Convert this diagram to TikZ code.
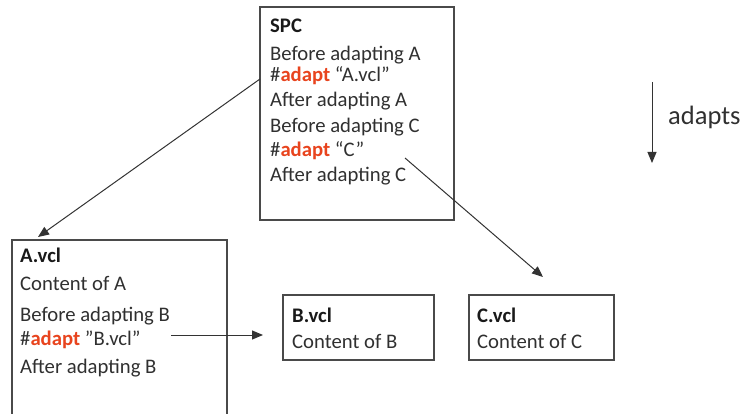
\documentclass[tikz,border=0pt]{standalone}
\usepackage{fontspec}
\setmainfont{Carlito}
\usetikzlibrary{arrows.meta}
\definecolor{txt}{HTML}{303030}
\definecolor{kwred}{HTML}{E8441E}
\definecolor{frame}{HTML}{4A4A4A}
\newcommand\adaptkw{\textcolor{kwred}{\bfseries adapt}}

\begin{document}
\begin{tikzpicture}[x=1pt,y=-1pt,
  box/.style={draw=frame, line width=1.3pt, inner sep=0pt, outer sep=0pt, anchor=north west},
  ln/.style={anchor=base west, inner sep=0pt, text=txt, font=\fontsize{20.7}{24}\selectfont},
  ttl/.style={anchor=base west, inner sep=0pt, text=black!90, font=\fontsize{20.7}{24}\selectfont\bfseries},
  arr/.style={draw=black!80, line width=1pt, -{Triangle[length=11pt,width=9pt]}}]

\clip (0,0) rectangle (744,414);

% frames
\node[box, minimum width=194pt, minimum height=213pt] (spc) at (260,7) {};
\node[box, minimum width=215pt, minimum height=190pt] (avcl) at (12,240) {};
\node[box, minimum width=151pt, minimum height=65pt] (bvcl) at (283,295) {};
\node[box, minimum width=145pt, minimum height=65pt] (cvcl) at (469,295) {};

% SPC contents
\node[ttl] (spcT) at (270,33) {SPC};
\node[ln] (spc1) at (270,61) {Before adapting A};
\node[ln] (spc2) at (270,82) {\#\adaptkw{} “A.vcl”};
\node[ln] (spc3) at (270,107) {After adapting A};
\node[ln] (spc4) at (270,133) {Before adapting C};
\node[ln] (spc5) at (270,157) {\#\adaptkw{} “C”};
\node[ln] (spc6) at (270,182) {After adapting C};

% A.vcl contents
\node[ttl] (aT) at (20,262) {A.vcl};
\node[ln] (a1) at (20,290) {Content of A};
\node[ln] (a2) at (20,321) {Before adapting B};
\node[ln] (a3) at (20,345) {\#\adaptkw{} ”B.vcl”};
\node[ln] (a4) at (20,373) {After adapting B};

% B.vcl and C.vcl contents
\node[ttl] (bT) at (292,322) {B.vcl};
\node[ln] (b1) at (292,348) {Content of B};
\node[ttl] (cT) at (477,322) {C.vcl};
\node[ln] (c1) at (477,348) {Content of C};

% connector ends
\coordinate (aFrom) at (260,79);
\coordinate (aTip) at (38,237);
\coordinate (cFrom) at (405,158);
\coordinate (cTip) at (543,277);
\coordinate (bFrom) at (171,335);
\coordinate (bTip) at (263,335);
\coordinate (dTop) at (652,82);
\coordinate (dBot) at (652,163);

\draw[arr] (aFrom) -- (aTip);
\draw[arr] (cFrom) -- (cTip);
\draw[arr] (bFrom) -- (bTip);
\draw[arr] (dTop) -- (dBot);

% legend
\node[anchor=base west, inner sep=0pt, text=txt, font=\fontsize{26.5}{30}\selectfont] (lgd) at (668,125) {adapts};
\end{tikzpicture}
\end{document}
